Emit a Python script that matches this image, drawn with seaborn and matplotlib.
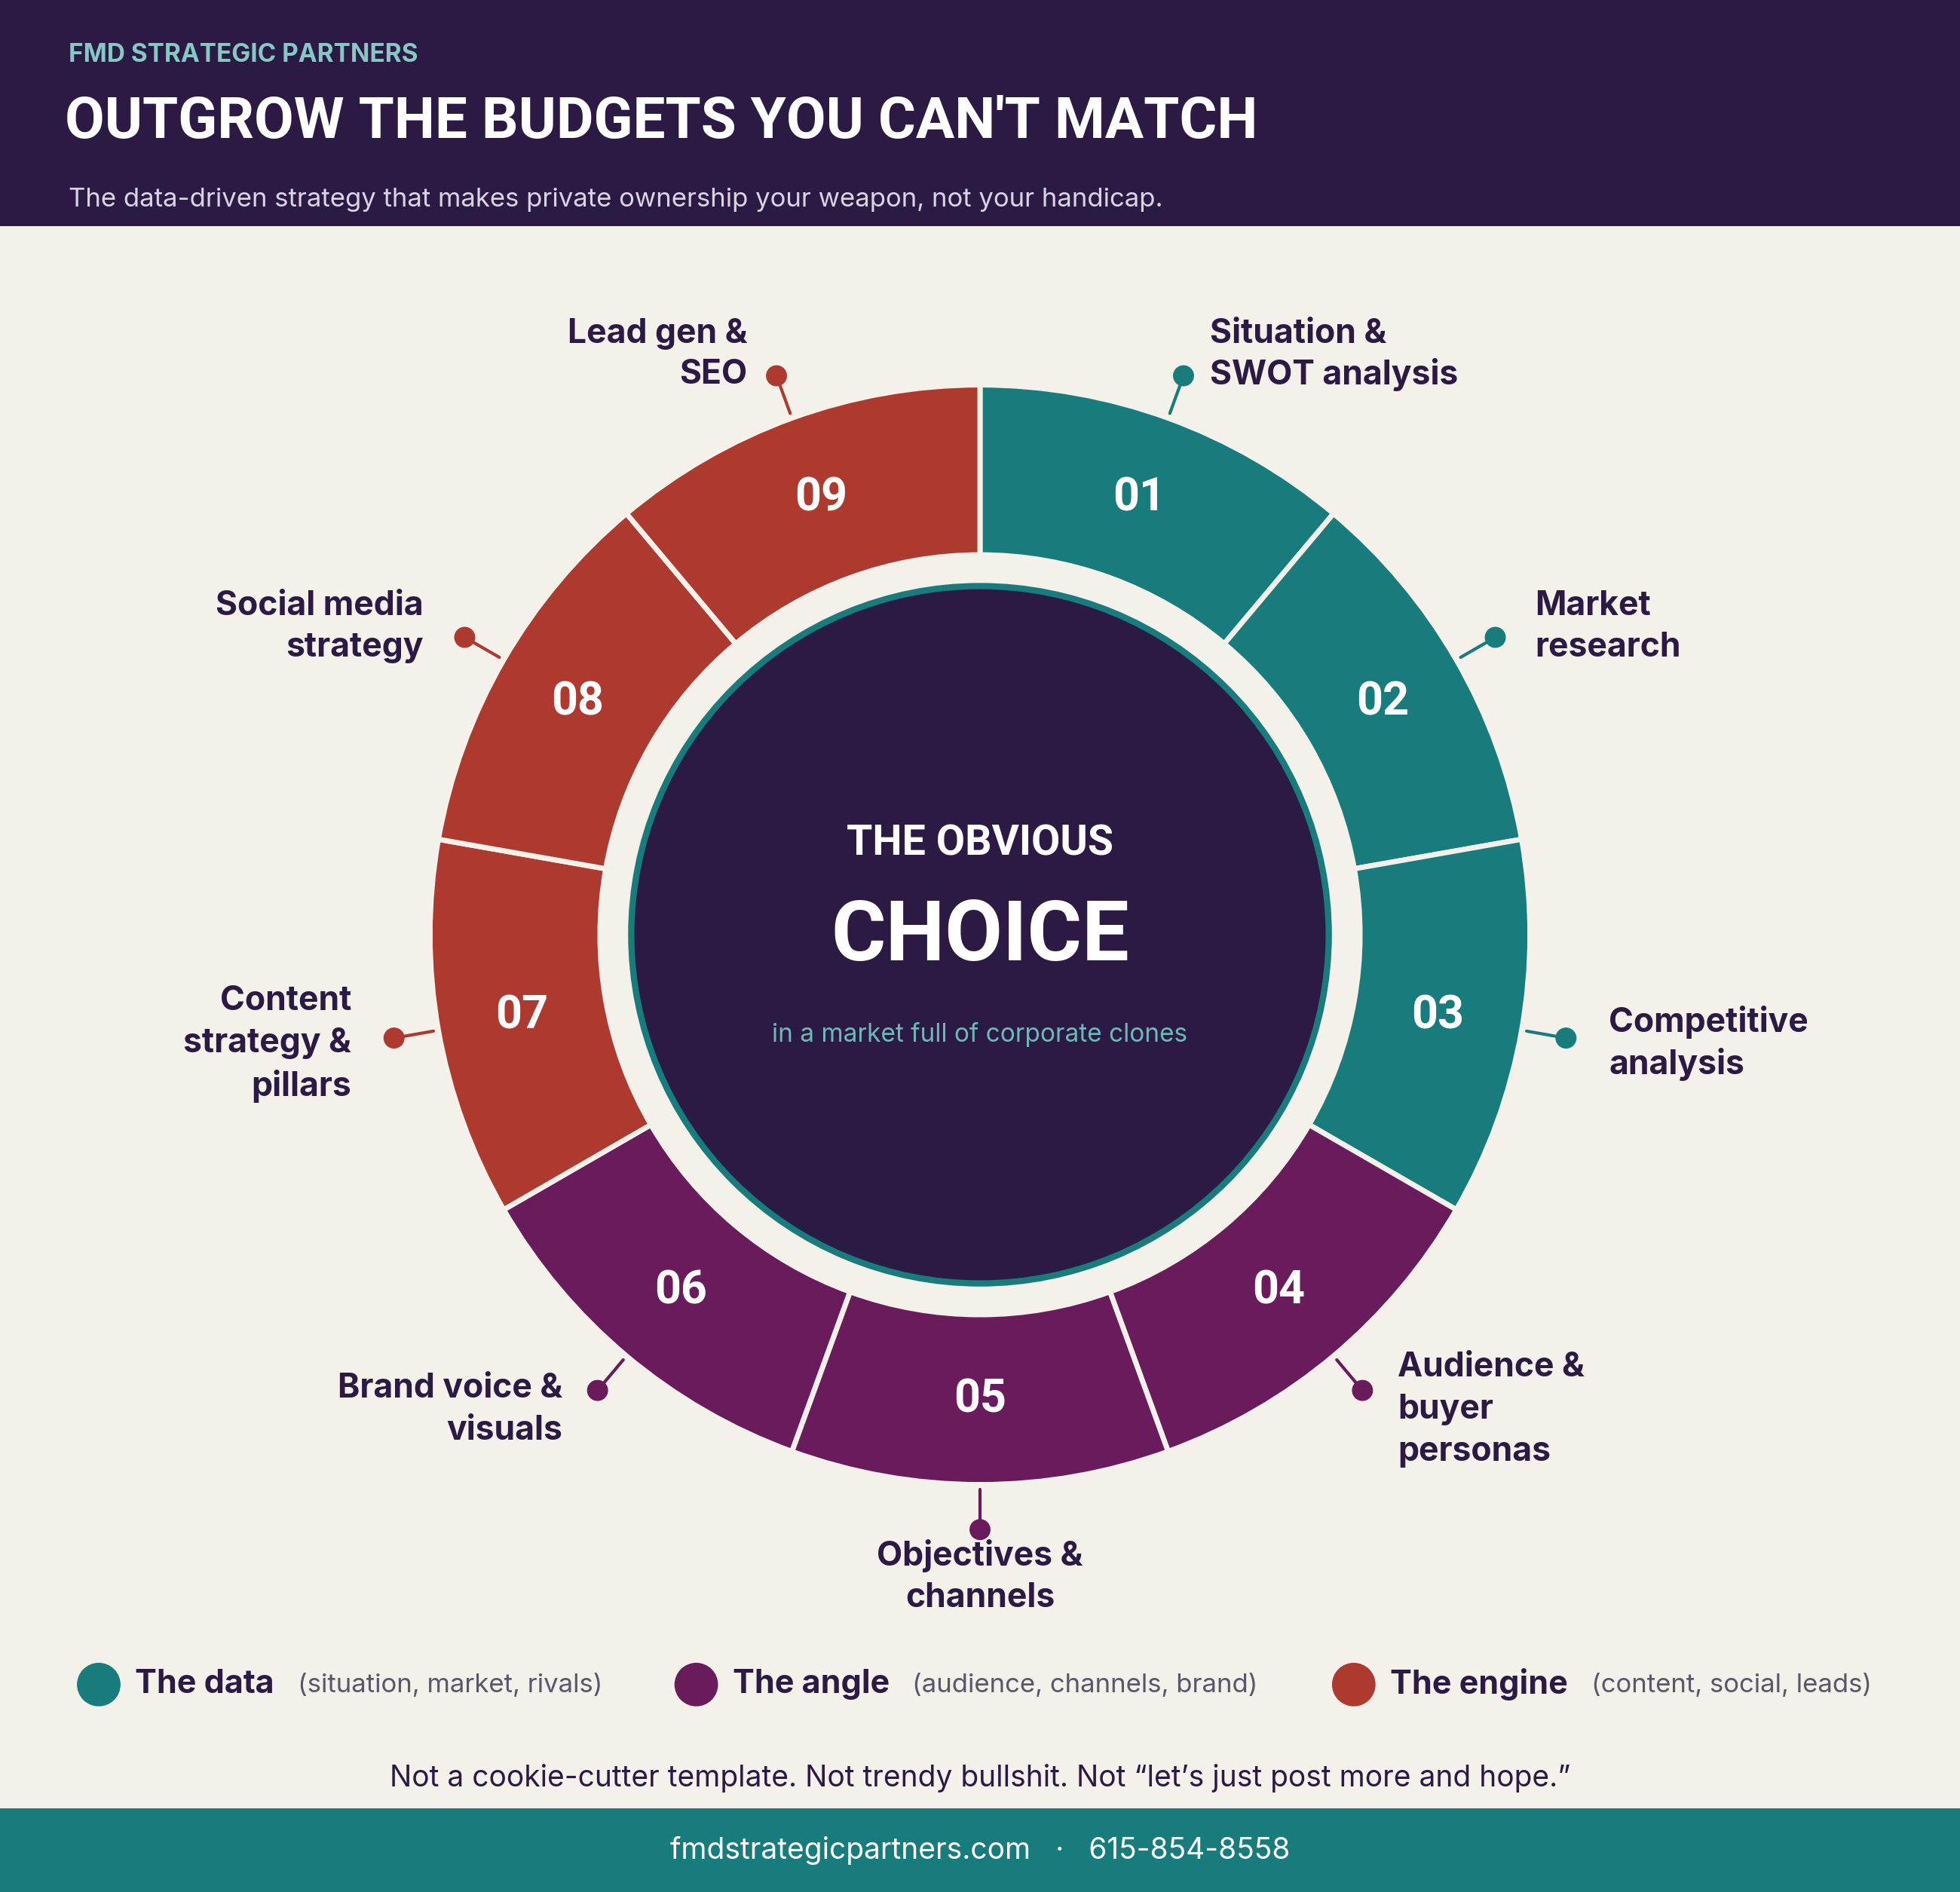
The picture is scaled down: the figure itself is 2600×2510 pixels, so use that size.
import numpy as np
import matplotlib
matplotlib.use("Agg")
import matplotlib.pyplot as plt
import seaborn as sns
from matplotlib.patches import Circle, Rectangle

sns.set_theme(style="white")
plt.rcParams['font.family'] = ['Inter', 'DejaVu Sans']

# ---- data ----
steps = ["01", "02", "03", "04", "05", "06", "07", "08", "09"]
step_labels = ["Situation &\nSWOT analysis", "Market\nresearch", "Competitive\nanalysis",
               "Audience &\nbuyer\npersonas", "Objectives &\nchannels", "Brand voice &\nvisuals",
               "Content\nstrategy &\npillars", "Social media\nstrategy", "Lead gen &\nSEO"]
step_values = [1, 1, 1, 1, 1, 1, 1, 1, 1]
step_groups = ["data", "data", "data", "angle", "angle", "angle", "engine", "engine", "engine"]
group_names = ["The data", "The angle", "The engine"]
group_notes = ["(situation, market, rivals)", "(audience, channels, brand)", "(content, social, leads)"]

TEAL, PURP, RED = "#177C7B", "#6A1B5B", "#AE3A2F"
DARK, BG = "#2B1A43", "#F4F1EA"
gcol = {"data": TEAL, "angle": PURP, "engine": RED}

W, H = 1568, 1514
def Y(y): return H - y

fig = plt.figure(figsize=(26, 25.1), dpi=100)
fig.patch.set_facecolor(BG)
ax = fig.add_axes([0, 0, 1, 1])
ax.set_facecolor(BG)

CX, CY = 784, Y(748)
R_OUT, R_IN = 440, 304
colors = [gcol[g] for g in step_groups]
ax.pie(step_values, startangle=90, counterclock=False, radius=R_OUT, center=(CX, CY),
       colors=colors, wedgeprops=dict(width=R_OUT - R_IN, edgecolor=BG, linewidth=5))
ax.add_patch(Circle((CX, CY), 279, facecolor=DARK, edgecolor=TEAL, linewidth=6, zorder=3))

# header / footer bands
ax.add_patch(Rectangle((0, Y(181)), W, 181, facecolor=DARK, edgecolor="none", zorder=1))
ax.add_patch(Rectangle((0, 0), W, H - 1447, facecolor=TEAL, edgecolor="none", zorder=1))

head = ['Roboto', 'DejaVu Sans']
ax.text(55, Y(44), "FMD STRATEGIC PARTNERS", color="#86C9C4", fontsize=24, fontweight="bold",
        va="center", ha="left", zorder=5)
ax.text(52, Y(98), "OUTGROW THE BUDGETS YOU CAN'T MATCH", color="white", fontsize=55,
        fontweight="bold", family=head, va="center", ha="left", zorder=5)
ax.text(55, Y(160), "The data-driven strategy that makes private ownership your weapon, not your handicap.",
        color="#D9D4E2", fontsize=25, va="center", ha="left", zorder=5)

# wedge numbers, dots, labels
cum = np.cumsum([0] + step_values)
tot = sum(step_values)
text_pos = [(968, [267, 300], "left"), (1228, [485, 518], "left"), (1287, [818, 852], "left"),
            (1118, [1094, 1128, 1162], "left"), (784, [1245, 1279], "center"),
            (450, [1111, 1145], "right"), (281, [801, 835, 869], "right"),
            (339, [485, 518], "right"), (598, [267, 300], "right")]
for i, s in enumerate(steps):
    mid = 90 - 360 * (cum[i] + cum[i + 1]) / 2 / tot
    a = np.deg2rad(mid)
    ax.text(CX + 372 * np.cos(a), CY + 372 * np.sin(a), s, color="white", fontsize=44,
            fontweight="bold", family=head, ha="center", va="center", zorder=6)
    c = colors[i]
    ax.plot([CX + 444 * np.cos(a), CX + 474 * np.cos(a)], [CY + 444 * np.sin(a), CY + 474 * np.sin(a)],
            color=c, lw=3, zorder=6)
    ax.add_patch(Circle((CX + 476 * np.cos(a), CY + 476 * np.sin(a)), 8, color=c, zorder=7))
    x, ys, ha = text_pos[i]
    for line, yy in zip(step_labels[i].split("\n"), ys):
        ax.text(x, Y(yy), line, color=DARK, fontsize=32, fontweight="bold", ha=ha, va="center", zorder=6)

# center text
ax.text(CX, Y(675), "THE OBVIOUS", color="white", fontsize=40, fontweight="bold", family=head,
        ha="center", va="center", zorder=6)
ax.text(CX, Y(750), "CHOICE", color="white", fontsize=80, fontweight="bold", family=head,
        ha="center", va="center", zorder=6)
ax.text(CX, Y(828), "in a market full of corporate clones", color="#6DB9B5", fontsize=24,
        ha="center", va="center", zorder=6)

# legend
lx = [79, 557, 1083]
for x, gname, note, c in zip(lx, group_names, group_notes, [TEAL, PURP, RED]):
    ax.add_patch(Circle((x, Y(1348)), 17, color=c, zorder=6))
    ax.text(x + 29, Y(1348), gname, color=DARK, fontsize=31, fontweight="bold", ha="left",
            va="center", zorder=6)
    nx = {79: 238, 557: 730, 1083: 1273}[x]
    ax.text(nx, Y(1349), note, color="#5C566A", fontsize=25, ha="left", va="center", zorder=6)

ax.text(CX, Y(1423), "Not a cookie-cutter template. Not trendy bullshit. Not \u201clet\u2019s just post more and hope.\u201d",
        color=DARK, fontsize=28, ha="center", va="center", zorder=6)
ax.text(CX, Y(1481), "fmdstrategicpartners.com   \u00b7   615-854-8558", color="white", fontsize=28,
        ha="center", va="center", zorder=6)

ax.set_xlim(0, W)
ax.set_ylim(0, H)
ax.set_aspect("auto")
ax.axis("off")
fig.savefig("out.png", dpi=100, facecolor=BG)
